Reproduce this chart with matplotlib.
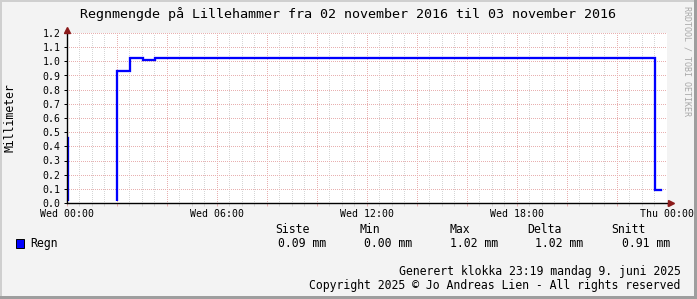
import numpy as np
import matplotlib
matplotlib.use("Agg")
import matplotlib.pyplot as plt
from matplotlib.patches import Rectangle
from matplotlib.ticker import MultipleLocator, FuncFormatter

# ---- data (hours after Wed 00:00, mm) ----
times = [0.0, 0.07, 2.02, 2.52, 3.05, 3.53, 23.52, 23.75]
rain = [0.46, 0.00, 0.93, 1.02, 1.01, 1.02, 0.09, 0.09]

tick_hours = [0, 6, 12, 18, 24]
tick_labels = ["Wed 00:00", "Wed 06:00", "Wed 12:00", "Wed 18:00", "Thu 00:00"]

title = "Regnmengde på Lillehammer fra 02 november 2016 til 03 november 2016"
ylabel = "Millimeter"
series_name = "Regn"
legend_headers = ["Siste", "Min", "Max", "Delta", "Snitt"]
legend_values = ["0.09 mm", "0.00 mm", "1.02 mm", "1.02 mm", "0.91 mm"]
footer1 = "Generert klokka 23:19 mandag 9. juni 2025"
footer2 = "Copyright 2025 © Jo Andreas Lien - All rights reserved"
watermark = "RRDTOOL / TOBI OETIKER"

W, H = 697, 299
MONO = ["DejaVu Sans Mono"]
BG = "#F3F3F3"
MGRID = "#E8B0B0"
GRID = "#D6D6D6"
ARROW = "#8B1A1A"

fig = plt.figure(figsize=(W / 100, H / 100), dpi=100, facecolor=BG)


def fx(x):
    return x / W


def fy(y):
    return 1 - y / H


left, right, top, bottom = 66.5, 667.0, 33.0, 203.0
ax = fig.add_axes([fx(left), fy(bottom), (right - left) / W, (bottom - top) / H])
ax.set_facecolor("white")
ax.set_xlim(0, 24)
ax.set_ylim(0, 1.2)

ax.xaxis.set_major_locator(MultipleLocator(2))
ax.xaxis.set_minor_locator(MultipleLocator(0.5))
ax.yaxis.set_major_locator(MultipleLocator(0.1))


def xfmt(v, pos):
    for h, lab in zip(tick_hours, tick_labels):
        if abs(v - h) < 1e-6:
            return lab
    return ""


ax.xaxis.set_major_formatter(FuncFormatter(xfmt))
ax.yaxis.set_major_formatter(FuncFormatter(lambda v, p: f"{v:.1f}"))

gkw = dict(lw=0.72, linestyle=(0, (1, 2)), zorder=0, antialiased=False)
ax.grid(which="minor", axis="x", color=GRID, **gkw)
ax.grid(which="major", axis="x", color=MGRID, **gkw)
ax.grid(which="major", axis="y", color=MGRID, **gkw)
ax.set_axisbelow(True)

ax.tick_params(axis="x", which="major", direction="out", length=2.5, width=0.72,
               color=MGRID, labelcolor="black", labelsize=7.1, pad=1.5)
ax.tick_params(axis="x", which="minor", direction="out", length=2, width=0.72, color=GRID)
ax.tick_params(axis="y", which="major", direction="out", length=2.5, width=0.72,
               color="black", labelcolor="black", labelsize=7.1, pad=2)
for lab in ax.get_xticklabels() + ax.get_yticklabels():
    lab.set_family(MONO)

for s in ["top", "right"]:
    ax.spines[s].set_visible(False)
for s in ["left", "bottom"]:
    ax.spines[s].set_color("black")
    ax.spines[s].set_linewidth(1.0)
    ax.spines[s].set_zorder(5)

lines = ax.step(times, rain, where="post", color="#0000FF", lw=1.65, zorder=3,
                solid_joinstyle="miter", antialiased=True)
clip = Rectangle((0, 1.6 / (bottom - top)), 1, 1, transform=ax.transAxes,
                 fc="none", ec="none")
ax.add_patch(clip)
for ln in lines:
    ln.set_clip_path(clip)

# axis arrows
ax.plot([1.006], [0], marker=">", ms=4.5, color=ARROW, transform=ax.transAxes,
        clip_on=False, zorder=6, mec=ARROW)
ax.plot([0], [1.02], marker="^", ms=4.5, color=ARROW, transform=ax.transAxes,
        clip_on=False, zorder=6, mec=ARROW)

fig.text(fx(10), fy(118), ylabel, family=MONO, fontsize=8.3, rotation=90,
         ha="center", va="center")

# title
fig.text(fx(348.5), fy(14), title, family=MONO, fontsize=9.6, ha="center", va="center")

# watermark
fig.text(fx(687), fy(61), watermark, family=MONO, fontsize=6.0, rotation=270,
         ha="center", va="center", color="#A8A8A8")

# legend
fig.add_artist(Rectangle((fx(15.5), fy(247.5)), 8.5 / W, 8.5 / H, transform=fig.transFigure,
                         fc="#0000FF", ec="black", lw=0.7))
fig.text(fx(30.5), fy(243), series_name, family=MONO, fontsize=8.3, ha="left", va="center")
header_x = [275.7, 360.0, 450.0, 527.3, 611.7]
value_x = [277.7, 364.0, 450.0, 535.0, 621.7]
for hx, h in zip(header_x, legend_headers):
    fig.text(fx(hx), fy(229.3), h, family=MONO, fontsize=8.3, ha="left", va="center")
for vx, v in zip(value_x, legend_values):
    fig.text(fx(vx), fy(243.3), v, family=MONO, fontsize=8.3, ha="left", va="center")

fig.text(fx(681), fy(271), footer1, family=MONO, fontsize=8.3, ha="right", va="center")
fig.text(fx(680.5), fy(285), footer2, family=MONO, fontsize=8.3, ha="right", va="center")

# frame shading
fig.add_artist(Rectangle((0, 0), 2 / W, 1, transform=fig.transFigure, fc="#CFCFCF", ec="none"))
fig.add_artist(Rectangle((0, 1 - 2 / H), 1, 2 / H, transform=fig.transFigure, fc="#CFCFCF", ec="none"))
fig.add_artist(Rectangle((1 - 3 / W, 0), 3 / W, 1, transform=fig.transFigure, fc="#9E9E9E", ec="none"))
fig.add_artist(Rectangle((0, 0), 1, 3 / H, transform=fig.transFigure, fc="#9E9E9E", ec="none"))

fig.savefig("out.png", dpi=100, facecolor=BG)
